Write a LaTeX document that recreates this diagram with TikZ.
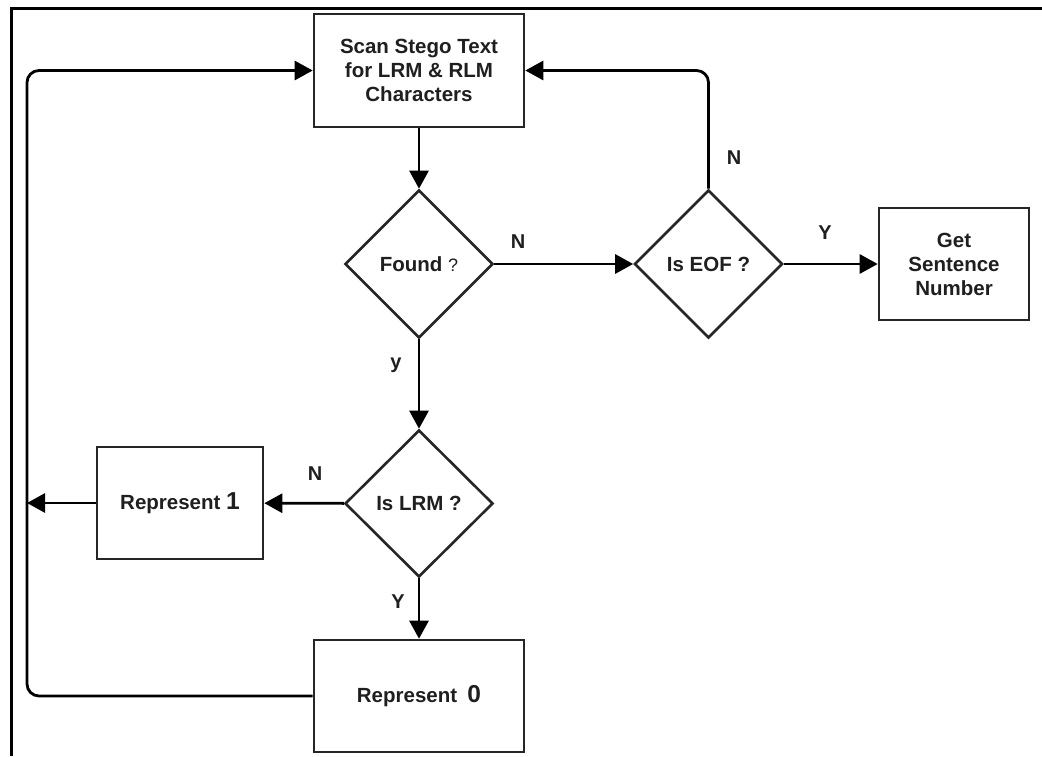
\documentclass[tikz,border=0pt]{standalone}
\usepackage{fontspec}
\setmainfont{Liberation Sans}
\usetikzlibrary{shapes.geometric,arrows.meta}

\tikzset{
  box/.style={draw=black!85, line width=2.6pt, rectangle, inner sep=0pt,
              align=center, font=\fontsize{20.5}{24}\selectfont\bfseries, text=black!88},
  decision/.style={draw=black!85, line width=2.6pt, diamond, aspect=1, inner sep=0pt,
              minimum width=148pt, minimum height=148pt,
              font=\fontsize{20.5}{24}\selectfont\bfseries, text=black!88},
  flow/.style={draw=black, line width=2.8pt,
              -{Triangle[length=18pt,width=19pt]}},
  lbl/.style={font=\fontsize{20}{22}\selectfont\bfseries, text=black!88, inner sep=0pt},
}

\begin{document}
\begin{tikzpicture}[x=1pt,y=-1pt]
  \useasboundingbox (0,0) rectangle (1042,756);
  \fill[white] (0,0) rectangle (1042,756);

  % frame edges
  \draw[line width=3pt, black] (1042,8) -- (11,8) -- (11,756);

  % process boxes and decisions
  \node[box, minimum width=210pt, minimum height=113pt] (scan) at (419,70.5)
    {Scan Stego Text\\for LRM \& RLM\\Characters};
  \node[decision] (found) at (419,264) {Found {\mdseries\fontsize{18}{20}\selectfont ?}};
  \node[decision] (eof) at (708.5,264) {Is EOF ?};
  \node[box, minimum width=150pt, minimum height=112pt] (get) at (954,264)
    {Get\\Sentence\\Number};
  \node[decision, minimum height=147pt] (lrm) at (419,503.5) {Is LRM ?};
  \node[box, minimum width=166pt, minimum height=112pt] (rep1) at (180,503)
    {Represent {\fontsize{24.5}{24}\selectfont 1}};
  \node[box, minimum width=210pt, minimum height=112pt] (rep0) at (419,696)
    {Represent\enspace{\fontsize{24.5}{24}\selectfont 0}};

  % return rail on the left
  \coordinate (rail) at (27,503);

  % connectors
  \draw[flow] (scan) -- (found);
  \draw[flow] (found) -- (eof);
  \draw[flow, rounded corners=12pt] (eof.north) |- (scan.east);
  \draw[flow] (eof) -- (get);
  \draw[flow] (found) -- (lrm);
  \draw[flow] (lrm) -- (rep1);
  \draw[flow] (rep1.west) -- (rail);
  \draw[flow] (lrm) -- (rep0);
  \draw[flow, rounded corners=12pt] (rep0.west) -- (rail |- rep0.west)
    -- (rail |- scan.west) -- (scan.west);

  % branch labels
  \node[lbl] (lN1) at (518,242) {N};
  \node[lbl] (lN2) at (734,158) {N};
  \node[lbl] (lY1) at (825,233) {Y};
  \node[lbl] (ly2) at (396,365) {y};
  \node[lbl] (lN3) at (315,474) {N};
  \node[lbl] (lY3) at (398,602) {Y};
\end{tikzpicture}
\end{document}
